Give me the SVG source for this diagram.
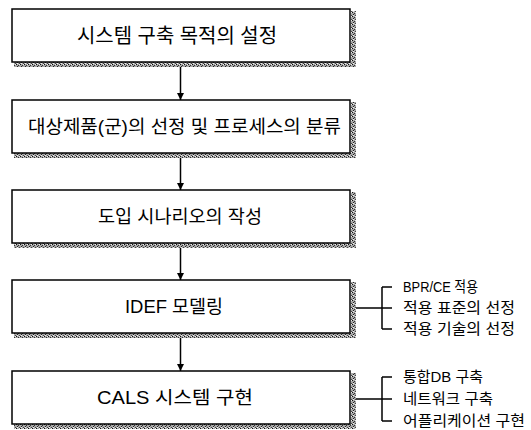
<svg xmlns="http://www.w3.org/2000/svg" width="531" height="430" viewBox="0 0 531 430">
<style>
.box{fill:#fff;stroke:#000;stroke-width:1.5}
.sh{fill:url(#dith)}
.t{font-family:"Liberation Sans","Noto Sans CJK KR",sans-serif;fill:#000}
.big{font-size:20px}
.mid{font-size:18px}
.sm{font-size:15px}
.ln{stroke:#000;stroke-width:1.5;fill:none}
</style>
<defs>
<pattern id="dith" width="4" height="4" patternUnits="userSpaceOnUse">
<rect width="4" height="4" fill="#a8a8a8"/>
<rect x="0" y="0" width="1" height="1" fill="#111"/>
<rect x="2" y="1" width="1" height="1" fill="#333"/>
<rect x="1" y="2" width="1" height="1" fill="#222"/>
<rect x="3" y="3" width="1" height="1" fill="#444"/>
<rect x="3" y="0" width="1" height="1" fill="#eee"/>
<rect x="1" y="3" width="1" height="1" fill="#eee"/>
</pattern>
<marker id="ah" viewBox="0 0 10 10" refX="10" refY="5" markerWidth="7" markerHeight="9" markerUnits="userSpaceOnUse" orient="auto">
<path d="M0,0 L10,5 L0,10 z" fill="#000"/>
</marker>
</defs>

<g id="node1">
<rect class="sh" x="14" y="62" width="342" height="5"/>
<rect class="sh" x="351" y="11" width="5" height="56"/>
<rect class="box" x="12" y="9" width="338" height="53"/>
<text class="t big" x="77" y="43" textLength="200" lengthAdjust="spacingAndGlyphs">시스템 구축 목적의 설정</text>
</g>
<g id="node2">
<rect class="sh" x="14" y="153" width="342" height="5"/>
<rect class="sh" x="351" y="102" width="5" height="56"/>
<rect class="box" x="12" y="100" width="338" height="53"/>
<text class="t mid" x="28" y="133" textLength="313" lengthAdjust="spacingAndGlyphs">대상제품(군)의 선정 및 프로세스의 분류</text>
</g>
<g id="node3">
<rect class="sh" x="14" y="243" width="342" height="5"/>
<rect class="sh" x="351" y="192" width="5" height="56"/>
<rect class="box" x="12" y="190" width="338" height="53"/>
<text class="t mid" x="98" y="223" textLength="164" lengthAdjust="spacingAndGlyphs">도입 시나리오의 작성</text>
</g>
<g id="node4">
<rect class="sh" x="14" y="333" width="342" height="5"/>
<rect class="sh" x="351" y="282" width="5" height="56"/>
<rect class="box" x="12" y="280" width="338" height="53"/>
<text class="t mid" x="125" y="313" textLength="98" lengthAdjust="spacingAndGlyphs">IDEF 모델링</text>
</g>
<g id="node5">
<rect class="sh" x="14" y="424" width="342" height="5"/>
<rect class="sh" x="351" y="373" width="5" height="56"/>
<rect class="box" x="12" y="371" width="338" height="53"/>
<text class="t mid" x="97" y="404" textLength="156" lengthAdjust="spacingAndGlyphs">CALS 시스템 구현</text>
</g>

<g id="labels4">
<text class="t sm" x="403" y="292" textLength="75" lengthAdjust="spacingAndGlyphs">BPR/CE 적용</text>
<text class="t sm" x="403" y="313" textLength="112" lengthAdjust="spacingAndGlyphs">적용 표준의 선정</text>
<text class="t sm" x="403" y="334" textLength="112" lengthAdjust="spacingAndGlyphs">적용 기술의 선정</text>
</g>
<g id="labels5">
<text class="t sm" x="403" y="382" textLength="80" lengthAdjust="spacingAndGlyphs">통합DB 구축</text>
<text class="t sm" x="403" y="404" textLength="90" lengthAdjust="spacingAndGlyphs">네트워크 구축</text>
<text class="t sm" x="403" y="426" textLength="122" lengthAdjust="spacingAndGlyphs">어플리케이션 구현</text>
</g>

<g id="connectors">
<line class="ln" x1="180.5" y1="67" x2="180.5" y2="100" marker-end="url(#ah)"/>
<line class="ln" x1="180.5" y1="158" x2="180.5" y2="190" marker-end="url(#ah)"/>
<line class="ln" x1="180.5" y1="248" x2="180.5" y2="280" marker-end="url(#ah)"/>
<line class="ln" x1="180.5" y1="338" x2="180.5" y2="371" marker-end="url(#ah)"/>
<path class="ln" d="M356,308 H392 M382,287 V329 M382,287 H392 M382,329 H392"/>
<path class="ln" d="M356,399 H392 M382,377 V421 M382,377 H392 M382,421 H392"/>
</g>
</svg>
